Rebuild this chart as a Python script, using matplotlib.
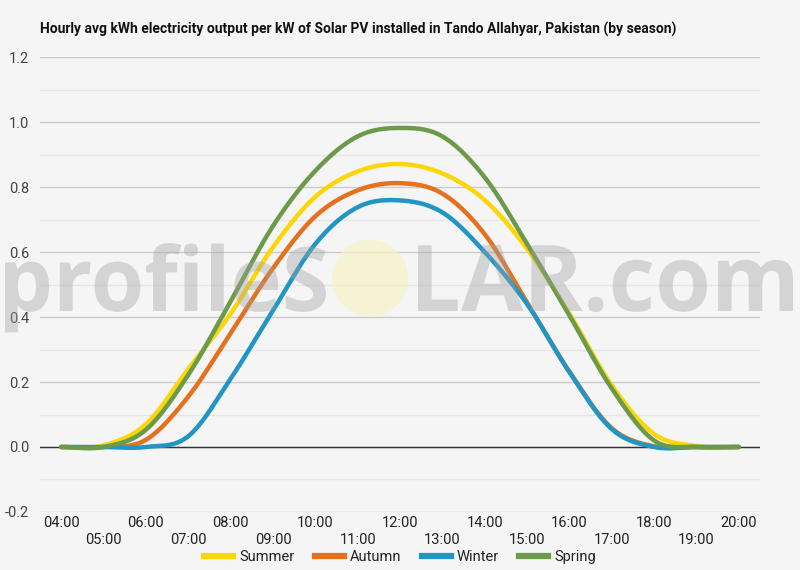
import numpy as np
import matplotlib
matplotlib.use("Agg")
import matplotlib.pyplot as plt
from matplotlib.patches import Ellipse, PathPatch
from matplotlib.lines import Line2D
from matplotlib.textpath import TextPath
from matplotlib.font_manager import FontProperties
from matplotlib.transforms import Affine2D

plt.rcParams['font.family'] = ['Roboto', 'DejaVu Sans']

# hourly values
hours = list(range(4, 21))
hour_labels = ['%02d:00' % h for h in hours]
summer = [0, 0.005, 0.07, 0.24, 0.41, 0.615, 0.77, 0.848, 0.871, 0.842, 0.76, 0.61, 0.41, 0.19, 0.04, 0.003, 0]
autumn = [0, 0, 0.022, 0.155, 0.35, 0.55, 0.71, 0.79, 0.812, 0.78, 0.655, 0.445, 0.232, 0.058, 0.002, 0, 0]
winter = [0, 0, 0, 0.033, 0.21, 0.42, 0.625, 0.738, 0.759, 0.722, 0.6, 0.44, 0.23, 0.055, 0.0, 0, 0]
spring = [0, 0, 0.053, 0.222, 0.448, 0.68, 0.85, 0.956, 0.982, 0.956, 0.83, 0.625, 0.405, 0.18, 0.02, 0, 0]

series_names = ['Summer', 'Autumn', 'Winter', 'Spring']
series_colors = ['#fdd60a', '#e5711f', '#2196c4', '#6b9a4a']

title = 'Hourly avg kWh electricity output per kW of Solar PV installed in Tando Allahyar, Pakistan (by season)'
bg = '#f5f5f5'


def smooth(x, y, n=24):
    # catmull-rom through the hourly points, like the original's curved lines
    x = np.asarray(x, float)
    y = np.asarray(y, float)
    xp = np.concatenate([[2 * x[0] - x[1]], x, [2 * x[-1] - x[-2]]])
    yp = np.concatenate([[y[0]], y, [y[-1]]])
    xs, ys = [], []
    for i in range(1, len(xp) - 2):
        t = np.linspace(0, 1, n, endpoint=False)
        for arr, out in ((xp, xs), (yp, ys)):
            p0, p1, p2, p3 = arr[i - 1], arr[i], arr[i + 1], arr[i + 2]
            out.extend(0.5 * (2 * p1 + (-p0 + p2) * t + (2 * p0 - 5 * p1 + 4 * p2 - p3) * t ** 2
                              + (-p0 + 3 * p1 - 3 * p2 + p3) * t ** 3))
    xs.append(x[-1])
    ys.append(y[-1])
    return np.array(xs), np.array(ys)


def watermark(ax, s, left, right, top, base):
    # text squeezed into a pixel box (top = tallest glyph, base = baseline), y from the top
    H = 570
    p = TextPath((0, 0), s, size=1, prop=FontProperties(family='Open Sans', weight='bold'))
    ext = p.get_extents()
    sx = (right - left) / ext.width
    sy = (base - top) / ext.y1
    tr = Affine2D().translate(-ext.x0, 0).scale(sx, sy).translate(left, H - base)
    ax.add_patch(PathPatch(p, transform=tr, facecolor='#a0a0a0', edgecolor='none',
                           alpha=0.38, zorder=5, clip_on=False))


fig = plt.figure(figsize=(8, 5.7), dpi=100, facecolor=bg)
ax = fig.add_axes([0.05, 0.1018, 0.90, 0.798])
ax.set_facecolor(bg)

ax.set_xlim(3.5, 20.5)
ax.set_ylim(-0.2, 1.2)

# grid
ax.set_yticks(np.round(np.arange(-0.2, 1.21, 0.2), 1))
ax.set_yticks(np.round(np.arange(-0.1, 1.2, 0.2), 1), minor=True)
ax.yaxis.grid(True, which='major', color='#cccccc', lw=1)
ax.yaxis.grid(True, which='minor', color='#e6e6e6', lw=1)
ax.set_axisbelow(True)
ax.axhline(0, color='#333333', lw=1, zorder=1.5)
ax.set_yticklabels(['%.1f' % v for v in ax.get_yticks()], fontsize=10.5, color='#444444')
ax.tick_params(axis='y', which='both', length=0, pad=8)

ax.set_xticks(hours)
ax.set_xticklabels([lab if i % 2 == 0 else '\n' + lab for i, lab in enumerate(hour_labels)],
                   fontsize=10.5, color='#222222', linespacing=1.25)
ax.tick_params(axis='x', length=0, pad=3)
for s in ax.spines.values():
    s.set_visible(False)

for name, vals, col in zip(series_names, [summer, autumn, winter, spring], series_colors):
    xs, ys = smooth(hours, vals)
    ax.plot(xs, ys, color=col, lw=3.2, solid_capstyle='round', zorder=3)

# watermark, laid over the lines with transparency
ax.add_patch(Ellipse((370 / 800, 1 - 278 / 570), 76 / 800, 77 / 570, transform=fig.transFigure,
                     facecolor='#f8f2bf', edgecolor='none', alpha=0.6, zorder=4, clip_on=False))
watermark(ax, 'profileS', 5, 326, 243, 311)
watermark(ax, 'LAR.com', 418, 793, 245, 311)

fig.text(0.05, 0.949, title, fontsize=10, fontweight='bold', color='#111111', va='center')

handles = [Line2D([0], [0], color=c, lw=4.5) for c in series_colors]
fig.legend(handles, series_names, loc='center', bbox_to_anchor=(0.5, 0.023), ncol=4,
           frameon=False, fontsize=10.5, handlelength=2.0, columnspacing=1.4, handletextpad=0.4,
           labelcolor='#222222')

fig.savefig('out.png', dpi=100, facecolor=bg)
